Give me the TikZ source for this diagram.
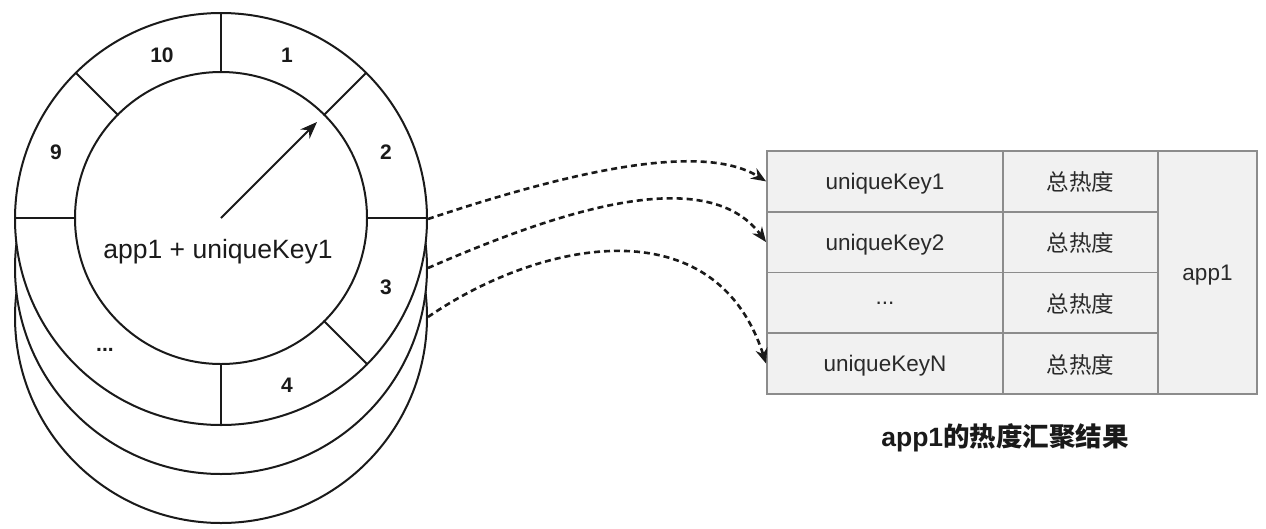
\documentclass[tikz,border=0pt]{standalone}
\usepackage{fontspec}
\setmainfont{Liberation Sans}
\newfontfamily\cjk{Noto Sans CJK SC}
\usetikzlibrary{arrows.meta,calc}
\definecolor{tblfill}{HTML}{F1F1F1}
\definecolor{tblline}{HTML}{8C8C8C}
\definecolor{ink}{HTML}{1A1A1A}
\definecolor{txt}{HTML}{2A2A2A}
\begin{document}
\begin{tikzpicture}[x=1pt,y=1pt,
  ring/.style={circle,draw=ink,line width=2pt,fill=white,inner sep=0pt,minimum size=412pt},
  hub/.style={circle,draw=ink,line width=2pt,fill=white,inner sep=0pt,minimum size=292pt},
  spoke/.style={draw=ink,line width=2pt},
  num/.style={font=\fontsize{21}{25}\selectfont\bfseries,text=ink,inner sep=0pt},
  cell/.style={draw=tblline,fill=tblfill,line width=1.8pt,inner sep=0pt,
    text depth=0pt,font=\fontsize{22.5}{27}\selectfont,text=txt},
  dasharrow/.style={draw=ink,line width=2.6pt,dash pattern=on 6pt off 4pt,
    -{Stealth[length=15pt,width=12pt]}}
]
\useasboundingbox (0,0) rectangle (1266,-528);

% stacked rings
\node[ring] (c3) at (221,-317) {};
\node[ring] (c2) at (221,-268) {};
\node[ring] (c1) at (221,-219) {};
\node[hub] (in) at (221,-218) {};

% spokes
\foreach \a in {90,45,0,-45,-90,180,135}{
  \draw[spoke] ($(in.center)+(\a:145)$) -- ($(in.center)+(\a:206)$);
}

% slot numbers
\node[num] (n10) at (162,-55) {10};
\node[num] (n1) at (287,-55) {1};
\node[num] (n2) at (386,-152) {2};
\node[num] (n9) at (56,-152) {9};
\node[num] (n3) at (386,-287) {3};
\node[num] (n4) at (287,-385) {4};
\node[num] (ndots) at (105,-350) {...};

% pointer
\coordinate (hand) at (317,-122);
\draw[spoke,-{Stealth[length=17pt,width=13pt]}] (in.center) -- (hand);
\node[font=\fontsize{26.5}{32}\selectfont,text=ink] (lbl) at (218,-252) {app1 + uniqueKey1};

% table
\node[cell,minimum width=236pt,minimum height=60.75pt] (k1) at (885,-181.4) {uniqueKey1};
\node[cell,minimum width=236pt,minimum height=60.75pt] (k2) at (885,-242.1) {uniqueKey2};
\node[cell,minimum width=236pt,minimum height=60.75pt] (k3) at (885,-302.9) {...};
\node[cell,minimum width=236pt,minimum height=60.75pt] (k4) at (885,-363.6) {uniqueKeyN};
\node[cell,minimum width=155pt,minimum height=60.75pt] (h1) at (1080.5,-181.4) {\cjk 总热度};
\node[cell,minimum width=155pt,minimum height=60.75pt] (h2) at (1080.5,-242.1) {\cjk 总热度};
\node[cell,minimum width=155pt,minimum height=60.75pt] (h3) at (1080.5,-302.9) {\cjk 总热度};
\node[cell,minimum width=155pt,minimum height=60.75pt] (h4) at (1080.5,-363.6) {\cjk 总热度};
\node[cell,minimum width=99pt,minimum height=243pt] (app) at (1207.5,-272.5) {app1};

\node[font=\fontsize{26.5}{32}\selectfont\bfseries,text=ink] (cap) at (1005,-438) {app1{\cjk\bfseries 的热度汇聚结果}};

% dashed connectors
\draw[dasharrow] (c1.east) .. controls (560,-175) and (700,-140) .. (k1.west);
\draw[dasharrow] (c2.east) .. controls (550,-215) and (705,-160) .. (k2.west);
\draw[dasharrow] (c3.east) .. controls (540,-240) and (715,-205) .. (k4.west);
\end{tikzpicture}
\end{document}
